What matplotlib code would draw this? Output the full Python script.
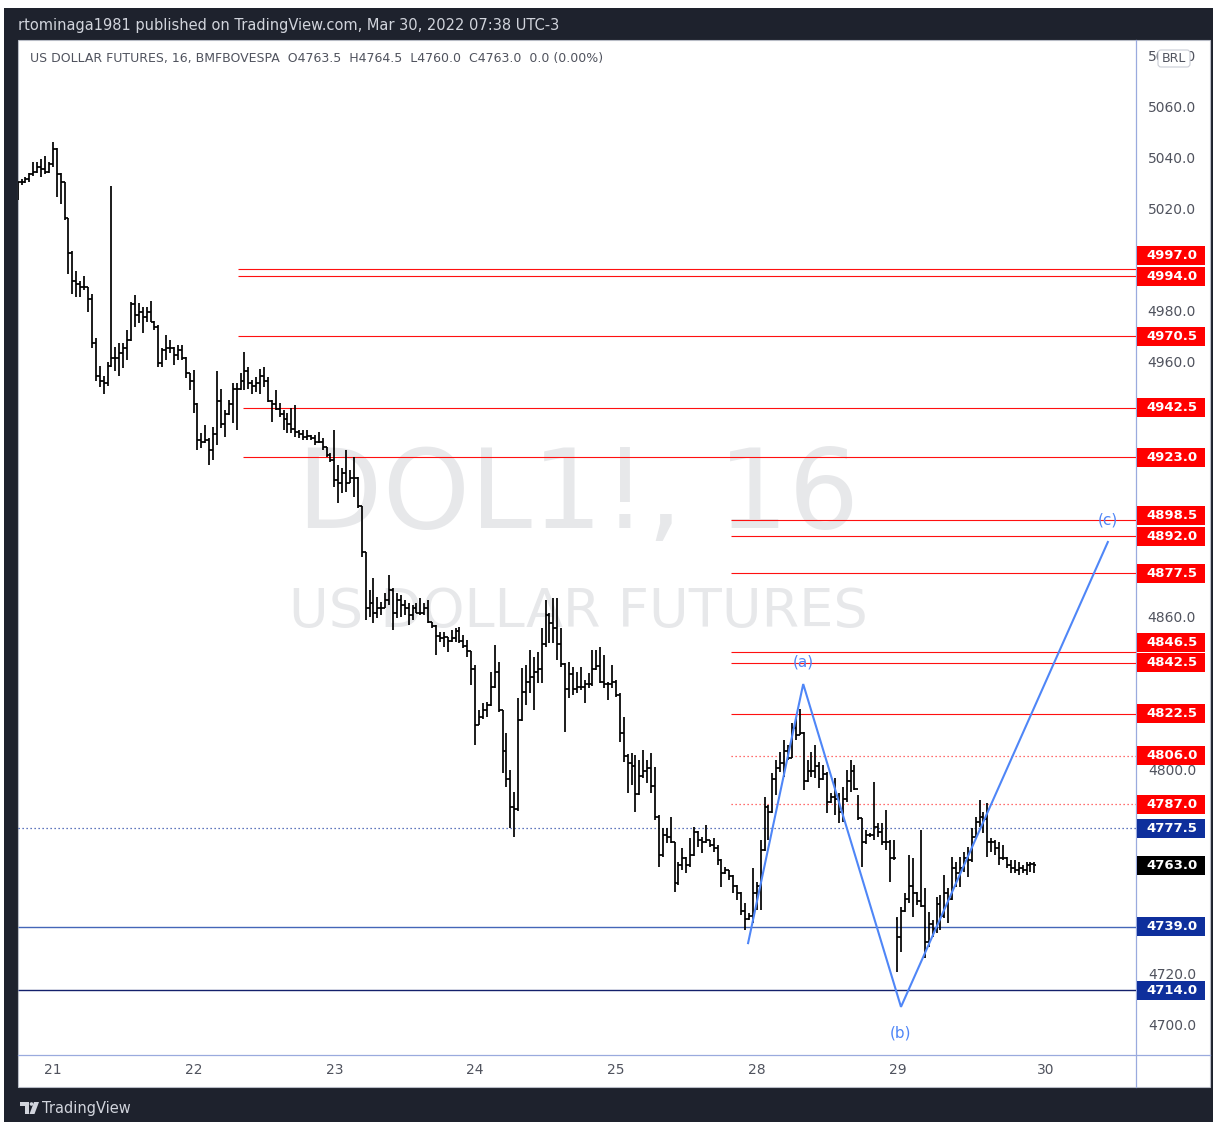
import matplotlib
matplotlib.use("Agg")
import matplotlib.pyplot as plt
from matplotlib.patches import Rectangle, FancyBboxPatch, Polygon
from matplotlib.transforms import blended_transform_factory
import numpy as np

W, H = 1213, 1122

# ---------------- DATA ----------------
# OHLC bars (16-minute), open = previous close unless listed in gap_opens
high_18 = [5031, 5032, 5033, 5034.5, 5039, 5039, 5040, 5041, 5039]
low_18 = [5024, 5030, 5030.5, 5031, 5033.5, 5034.5, 5033, 5034, 5034.5]
close_18 = [5031, 5031, 5032, 5034, 5035, 5037, 5036, 5035, 5038]

high_21 = [5046.5, 5044.5, 5034.5, 5031, 5017, 5004, 4996, 4992, 4994, 4990,
           4987, 4970, 4959, 4955, 4960.5, 5029.5, 4966.4, 4968, 4967.7, 4973,
           4984, 4986.5, 4983.5, 4982, 4982, 4984.5, 4976.5, 4975, 4966, 4971,
           4969, 4966.4, 4967, 4967, 4962.5, 4956]
low_21 = [5037, 5025, 5022.4, 5016, 4995, 4987, 4986, 4986, 4988.7, 4980,
          4966, 4953, 4950.7, 4948, 4951, 4958.5, 4957, 4955, 4958, 4961,
          4968.5, 4974.3, 4975.5, 4971.7, 4976, 4976, 4973, 4958.6, 4958.6, 4961,
          4964, 4959.3, 4961, 4961, 4954, 4949.4]
close_21 = [5044, 5034, 5031, 5017, 5003, 4992, 4991, 4990, 4990, 4985,
            4968, 4955, 4953, 4952, 4959, 4962, 4962, 4964, 4966, 4969,
            4983, 4979, 4980, 4978, 4980, 4976, 4974, 4960, 4965, 4966,
            4966, 4963, 4965, 4962, 4956, 4953]

high_22 = [4957.3, 4944.5, 4932.4, 4935.7, 4930.5, 4935, 4957, 4950, 4941.6, 4945.5,
           4952, 4952, 4956, 4964.4, 4958.6, 4953.3, 4954.6, 4957.5, 4958.6, 4954.6,
           4945.5, 4949.4, 4944.2, 4941.6, 4940.3, 4942.2, 4943.5, 4933.7, 4933.7, 4933.7,
           4931.8, 4931.8, 4933.1, 4930.4, 4927.2, 4924.6]
low_22 = [4940.3, 4926, 4926.5, 4928.5, 4920, 4922, 4928, 4934.4, 4931, 4939.5,
          4936.3, 4933.7, 4949.4, 4949.4, 4950, 4948, 4948.8, 4948, 4950.7, 4944.8,
          4937, 4941.6, 4939, 4933.7, 4932.4, 4932.4, 4931.1, 4930.4, 4929.8, 4929.8,
          4929.8, 4927.8, 4928.5, 4925.9, 4923.3, 4921.3]
close_22 = [4944, 4930, 4929, 4930, 4926, 4932, 4945, 4936, 4940, 4944,
            4950, 4950, 4953, 4957, 4952, 4951, 4952, 4955, 4953, 4945,
            4944, 4942, 4940, 4938, 4936, 4934, 4933, 4932, 4931, 4931.5,
            4930.5, 4929, 4929, 4927, 4924, 4922]

high_23 = [4933.7, 4920, 4918.7, 4925.9, 4918, 4923.3, 4915.4, 4904, 4886, 4871,
           4875.6, 4868.4, 4866.4, 4869.7, 4876.9, 4871.6, 4869.7, 4869, 4867.1, 4865.8,
           4865.1, 4865.8, 4867.7, 4865.8, 4867.1, 4858.6, 4857.3, 4854.6, 4854.6, 4852.7,
           4855.3, 4856, 4856.6, 4853.3, 4851.4, 4847]
low_23 = [4911.5, 4905, 4908.9, 4909.5, 4912.8, 4907.6, 4903, 4884, 4859.2, 4860.5,
          4858, 4859.9, 4861.2, 4863.8, 4865.1, 4855.3, 4860, 4860.5, 4861.2, 4857.3,
          4859.2, 4861.8, 4861.2, 4861.2, 4857.9, 4856, 4845.5, 4850.7, 4848.8, 4846.8,
          4850.7, 4850.7, 4850.1, 4848.1, 4844.8, 4833.7]
close_23 = [4914, 4913, 4917, 4913, 4915, 4915, 4904, 4886, 4864, 4866,
            4862, 4864, 4864, 4867, 4871, 4862, 4867, 4865, 4864, 4861,
            4864, 4862, 4862, 4864, 4858.5, 4857, 4853, 4852, 4852.5, 4851,
            4852, 4855, 4851, 4849, 4847, 4840]

high_24 = [4841.6, 4824, 4826.5, 4827.2, 4839, 4849.4, 4842.9, 4824, 4814.8, 4800.4,
           4791.9, 4828.5, 4840.3, 4841.6, 4847.5, 4844.8, 4846.8, 4856, 4867, 4861.8,
           4867.7, 4867.7, 4855.9, 4842.2, 4842.9, 4840.9, 4839, 4840.9, 4835.7, 4838.3,
           4847.5, 4847.5, 4848.8, 4845.5, 4835, 4841.6]
low_24 = [4810.2, 4818, 4820.5, 4821.3, 4825.5, 4832.4, 4823.3, 4799.1, 4793.9, 4777.5,
          4774.2, 4784.5, 4819.5, 4825.9, 4830.5, 4823.9, 4834.4, 4834.4, 4848.8, 4850.1,
          4850.1, 4843.5, 4840.9, 4815.4, 4828.5, 4829.8, 4830.5, 4831.8, 4826.5, 4832.4,
          4833.5, 4839.5, 4834.4, 4832.4, 4827.8, 4832.4]
close_24 = [4818, 4821, 4824, 4826, 4833, 4839, 4824, 4808, 4797, 4786,
            4785, 4820, 4831, 4835, 4837, 4839, 4840, 4850, 4861, 4858,
            4856, 4850, 4842, 4832, 4838, 4832, 4833, 4833, 4834, 4834,
            4840, 4841, 4835, 4834, 4834, 4835]

high_25 = [4835.5, 4830.5, 4821.3, 4806.5, 4806.9, 4806.3, 4804.3, 4808.2, 4804.3, 4806.9,
           4801.7, 4782.7, 4777.5, 4777.5, 4782.1, 4772, 4764.4, 4769.7, 4766.4, 4773.6,
           4778.2, 4776.5, 4774.2, 4778.8, 4773, 4773.6, 4771, 4765.5, 4762.5, 4761.2,
           4759.2, 4755.3, 4752.7, 4748.1, 4744.2, 4761.8]
low_25 = [4829.2, 4811.5, 4803.6, 4791.2, 4794.5, 4784, 4790.5, 4797.1, 4795.2, 4791.2,
          4780.8, 4762.5, 4766.4, 4771.6, 4771.6, 4752.7, 4755.3, 4761.2, 4759.9, 4762.5,
          4766.5, 4770.3, 4767.7, 4771.6, 4770.3, 4768.4, 4763.1, 4754.7, 4759.5, 4757.3,
          4752, 4749.4, 4743.5, 4737.7, 4741.5, 4740.3]
close_25 = [4830, 4815, 4806, 4803, 4802, 4791, 4798, 4800, 4801, 4794,
            4782, 4767, 4775, 4774, 4772, 4756, 4763, 4766, 4763, 4767,
            4776, 4773, 4772, 4773, 4771, 4770, 4765, 4760, 4761, 4759,
            4755, 4752, 4745, 4742, 4743, 4752]

high_28 = [4756.6, 4773, 4789.9, 4786.5, 4799.1, 4804.3, 4807.6, 4812.2, 4810.2, 4818.7,
           4820.7, 4824.2, 4815.4, 4804.3, 4807.6, 4810.2, 4803.7, 4802.4, 4799.5, 4791.2,
           4797.1, 4791.2, 4793.9, 4800.4, 4804.3, 4802.4, 4790.6, 4781.5, 4776.9, 4775.6,
           4795.8, 4779.5, 4779.5, 4784.7, 4773, 4773]
low_28 = [4745.5, 4745.5, 4768.5, 4773, 4783.4, 4790.6, 4799.8, 4797.8, 4804.3, 4805,
          4812.2, 4814, 4792.5, 4795.8, 4797.8, 4797.1, 4793.2, 4796.5, 4783.4, 4787.3,
          4782.8, 4779.5, 4780.1, 4788, 4791.9, 4792.5, 4780.8, 4762.5, 4771.5, 4774.3,
          4773, 4774.3, 4771, 4769, 4756.6, 4765.1]
close_28 = [4755, 4769, 4786, 4784, 4797, 4801, 4803, 4808, 4805, 4817,
            4814, 4815, 4796, 4800, 4800, 4802, 4797, 4799, 4788, 4790,
            4789, 4784, 4789, 4796, 4800, 4793, 4781.5, 4772, 4775, 4775,
            4778, 4776, 4772, 4772, 4766, 4766]

high_29 = [4742.9, 4746.8, 4752, 4767.1, 4765.8, 4752.7, 4776.9, 4754, 4744.8, 4741.6,
           4750.7, 4751.4, 4759.2, 4754, 4766.4, 4764.5, 4766.4, 4768.4, 4770.3, 4777.5,
           4782.1, 4788.6, 4784.1, 4787.3, 4773.6, 4773, 4772.3, 4771, 4766.4, 4765.1,
           4765.1, 4764.5, 4763.1, 4764.5, 4764.5, 4764.5]
low_29 = [4721.3, 4729.2, 4744.8, 4748.1, 4742.9, 4747.5, 4746.8, 4726.5, 4731.1, 4735,
          4736.3, 4737.7, 4742.5, 4740.3, 4749.5, 4754.6, 4754.6, 4760.5, 4758.6, 4764.5,
          4773.5, 4778.2, 4775.6, 4766.4, 4768.4, 4767.1, 4763.1, 4765.1, 4761.8, 4759.9,
          4759.9, 4759.2, 4759.9, 4759.2, 4760.5, 4760]
close_29 = [4735, 4745, 4750, 4755, 4752, 4749, 4747, 4733, 4740, 4738,
            4748, 4743, 4752, 4750, 4762, 4760, 4762, 4766, 4765, 4774,
            4780, 4782, 4781, 4772, 4772, 4770, 4766, 4766, 4763, 4762,
            4761, 4762, 4761, 4763, 4763.5, 4763]

first_open = 5026.0
gap_opens = {225: 4742.0}

day_labels = ["21", "22", "23", "24", "25", "28", "29", "30"]
day_tick_bar = [9, 45, 81, 117, 153, 189, 225, 263]

price_ticks = [5080, 5060, 5040, 5020, 5000, 4980, 4960, 4940, 4920, 4900,
               4880, 4860, 4840, 4820, 4800, 4780, 4760, 4740, 4720, 4700]

level_prices = [4997.0, 4994.0, 4970.5, 4942.5, 4923.0, 4898.5, 4892.0, 4877.5,
                4846.5, 4842.5, 4822.5, 4806.0, 4787.0, 4777.5, 4739.0, 4714.0]
level_start_bar = [56.4, 56.4, 56.4, 57.6, 57.6, 182.4, 182.4, 182.4,
                   182.4, 182.4, 182.4, 182.4, 182.4, 0.1, 0.1, 0.1]
level_kind = ["red"] * 11 + ["reddot", "reddot", "bluedot", "blue", "navy"]

wave_bar = [186.8, 200.9, 225.9, 278.8]
wave_price = [4732.5, 4834.1, 4707.5, 4889.8]
wave_labels = ["(a)", "(b)", "(c)"]

header = "rtominaga1981 published on TradingView.com, Mar 30, 2022 07:38 UTC-3"
legend = ("US DOLLAR FUTURES, 16, BMFBOVESPA  O4763.5  H4764.5  L4760.0  "
          "C4763.0  0.0 (0.00%)")

# ---------------- BUILD ----------------
highs = high_18 + high_21 + high_22 + high_23 + high_24 + high_25 + high_28 + high_29
lows = low_18 + low_21 + low_22 + low_23 + low_24 + low_25 + low_28 + low_29
closes = close_18 + close_21 + close_22 + close_23 + close_24 + close_25 + close_28 + close_29
opens = [first_open] + closes[:-1]
for k, v in gap_opens.items():
    opens[k] = v
idx = np.arange(len(closes))

styles = {
    "red": dict(line="#ff1010", ls="-", box="#ff0000", lw=0.8),
    "reddot": dict(line="#ff4040", ls=(0, (1, 2.2)), box="#ff0000", lw=0.9),
    "bluedot": dict(line="#2c4aa8", ls=(0, (1, 2.2)), box="#0e2f9c", lw=0.9),
    "blue": dict(line="#4466b8", ls="-", box="#0e2f9c", lw=1.0),
    "navy": dict(line="#13206b", ls="-", box="#0e2f9c", lw=1.0),
}

XL = (0.1, 286.0)
Y_TOP, Y_BOT = 40, 1055
P_TOP = 5060 + (108 - Y_TOP) / 2.55
P_BOT = 5060 - (Y_BOT - 108) / 2.55

fig = plt.figure(figsize=(W / 100, H / 100), dpi=100)
fig.patch.set_facecolor("#1e222d")

bg = fig.add_axes([0, 0, 1, 1])
bg.set_xlim(0, W)
bg.set_ylim(H, 0)
bg.axis("off")
bg.set_zorder(0)
# white screenshot margins
bg.add_patch(Rectangle((0, 0), W, 8, facecolor="white", edgecolor="none"))
bg.add_patch(Rectangle((0, 0), 4, H, facecolor="white", edgecolor="none"))
# white chart panel
bg.add_patch(Rectangle((18, 40), 1192, 1047, facecolor="white", edgecolor="#b8bcc6", lw=0.8))
bg.text(18, 25, header, color="#d1d4dc", fontsize=10.5, va="center", ha="left")
bg.text(30, 58, legend, color="#50535e", fontsize=9, va="center", ha="left")
# separators
bg.plot([1136, 1136], [40, 1087], color="#9aaade", lw=0.9)
bg.plot([18, 1210], [1055, 1055], color="#9aaade", lw=0.9)
# footer logo + text
bg.add_patch(Polygon([[20, 1102], [29, 1102], [29, 1114], [25, 1114], [25, 1106], [20, 1106]],
                     closed=True, facecolor="#d1d4dc", edgecolor="none"))
bg.add_patch(Polygon([[34, 1102], [39, 1102], [34.5, 1114], [29.5, 1114]],
                     closed=True, facecolor="#d1d4dc", edgecolor="none"))
bg.add_patch(plt.Circle((31.5, 1104), 1.8, facecolor="#d1d4dc", edgecolor="none"))
bg.text(42, 1108, "TradingView", color="#d1d4dc", fontsize=10.5, va="center", ha="left")

# main price pane
ax = fig.add_axes([18 / W, 1 - Y_BOT / H, 1118 / W, (Y_BOT - Y_TOP) / H])
ax.set_zorder(1)
ax.patch.set_visible(False)
ax.axis("off")
ax.set_xlim(*XL)
ax.set_ylim(P_BOT, P_TOP)

# watermark
ax.text(578, 497, "DOL1!, 16", transform=bg.transData, fontsize=80, color="#e7e8ea",
        ha="center", va="center", zorder=0.5)
ax.text(578, 612, "US DOLLAR FUTURES", transform=bg.transData, fontsize=39, color="#e7e8ea",
        ha="center", va="center", zorder=0.5)

# levels
for p, s, kind in zip(level_prices, level_start_bar, level_kind):
    st = styles[kind]
    ax.hlines(p, s, XL[1], colors=st["line"], linestyles=st["ls"], lw=st["lw"], zorder=2)

# OHLC bars
bar_c = "#000000"
ax.vlines(idx, lows, highs, colors=bar_c, lw=1.25, zorder=3)
ax.hlines(opens, idx - 0.5, idx, colors=bar_c, lw=1.25, zorder=3)
ax.hlines(closes, idx, idx + 0.5, colors=bar_c, lw=1.25, zorder=3)

# ABC wave
wave_c = "#4f86f7"
ax.plot(wave_bar, wave_price, color=wave_c, lw=1.5, zorder=4, solid_joinstyle="miter")
offsets = [16, -19, 16]
for lab, bx, bp, off in zip(wave_labels, wave_bar[1:], wave_price[1:], offsets):
    ax.annotate(lab, (bx, bp), xytext=(0, off), textcoords="offset points",
                ha="center", va="center", color=wave_c, fontsize=11, zorder=5,
                annotation_clip=False)

# time axis labels
tr_t = blended_transform_factory(ax.transData, bg.transData)
for lab, b in zip(day_labels, day_tick_bar):
    ax.text(b, 1070, lab, transform=tr_t, ha="center", va="center",
            color="#50535e", fontsize=10, clip_on=False)

# price scale
axp = fig.add_axes([1136 / W, 1 - Y_BOT / H, 74 / W, (Y_BOT - Y_TOP) / H])
axp.set_zorder(2)
axp.patch.set_visible(False)
axp.axis("off")
axp.set_xlim(0, 74)
axp.set_ylim(P_BOT, P_TOP)

# level labels, de-overlapped from bottom to top (TradingView keeps lower label fixed)
box_h = 19 / 2.55
gap = 20.5 / 2.55
labels = [(p, styles[k]["box"]) for p, k in zip(level_prices, level_kind)]
labels.append((closes[-1], "#000000"))
labels.sort(key=lambda t: t[0])
prev = None
shown = []
for p, col in labels:
    disp = p if prev is None else max(p, prev + gap)
    prev = disp
    shown.append(disp)
    axp.add_patch(Rectangle((1, disp - box_h / 2), 68, box_h, facecolor=col,
                            edgecolor="none", zorder=3))
    axp.text(36, disp, f"{p:.1f}", ha="center", va="center", color="white",
             fontsize=9.5, fontweight="bold", zorder=4)

# regular scale labels (those hidden behind a price label box are not drawn)
for t in price_ticks:
    if min(abs(t - d) for d in shown) < 5.0:
        continue
    axp.text(36, t, f"{t:.1f}", ha="center", va="center", color="#50535e", fontsize=10, zorder=1)

# currency badge
axp.add_patch(FancyBboxPatch((1158, 50), 32, 17, boxstyle="round,pad=0,rounding_size=3",
                             transform=bg.transData, facecolor="white", edgecolor="#c9ccd4",
                             lw=0.8, zorder=5, clip_on=False))
axp.text(1174, 58.5, "BRL", transform=bg.transData, ha="center", va="center",
         color="#50535e", fontsize=9, zorder=6)

fig.savefig("out.png", dpi=100, facecolor=fig.get_facecolor())
